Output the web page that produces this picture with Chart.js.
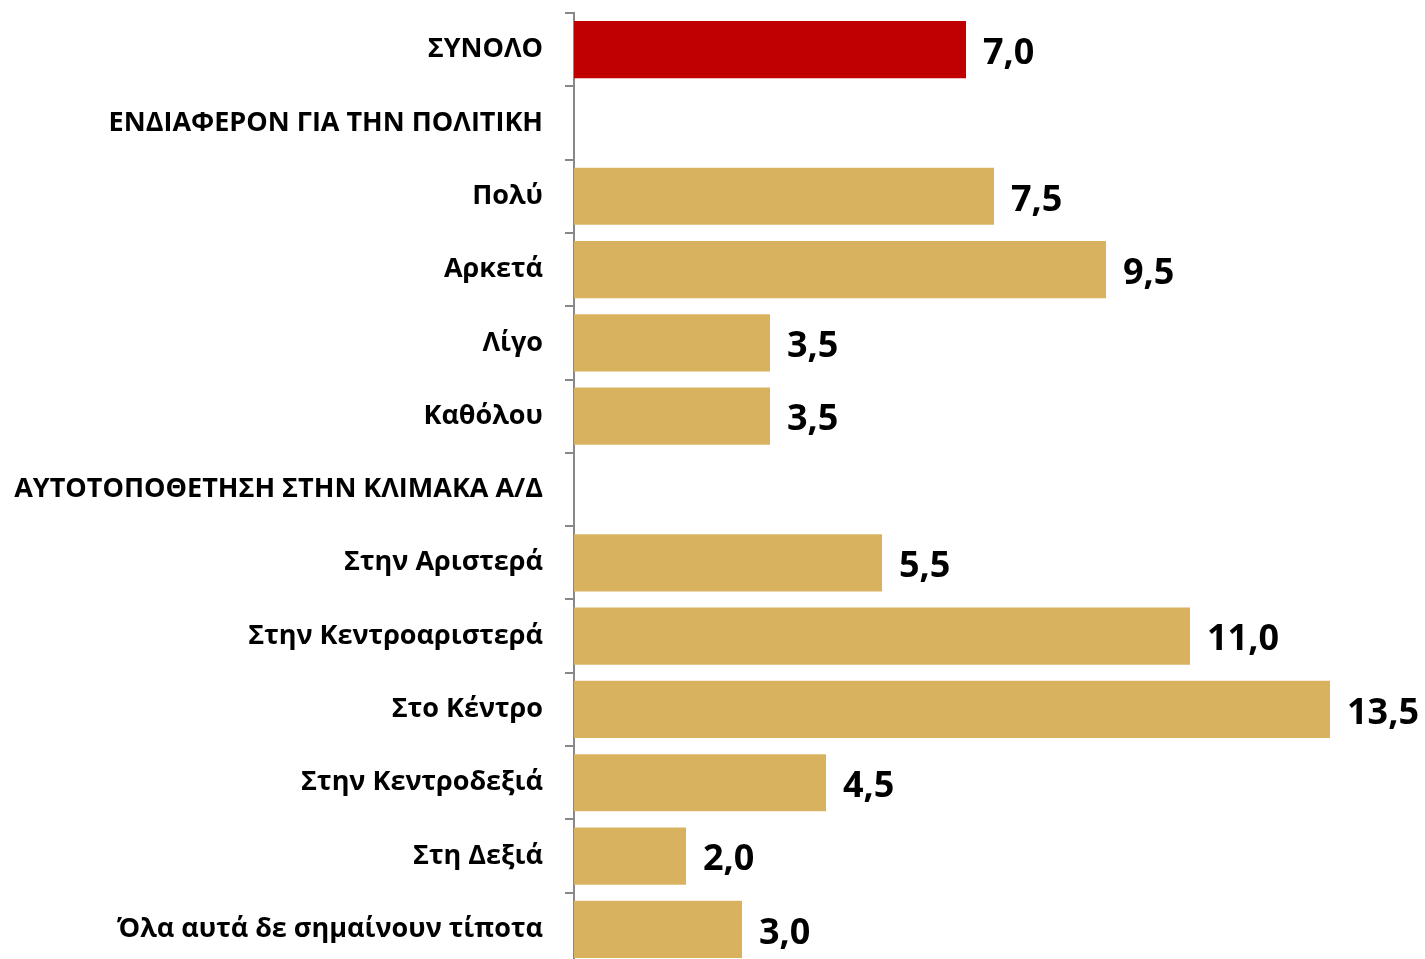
<!DOCTYPE html>
<html>
<head>
<meta charset="utf-8">
<script src="https://cdn.jsdelivr.net/npm/chart.js@4/dist/chart.umd.min.js"></script>
<style>
html,body{margin:0;padding:0;background:#fff;overflow:hidden;}
#wrap{width:1425px;height:970px;}
</style>
</head>
<body>
<div id="wrap"><canvas id="c" width="1425" height="970"></canvas></div>
<script>
const categories = [
  "ΣΥΝΟΛΟ",
  "ΕΝΔΙΑΦΕΡΟΝ ΓΙΑ ΤΗΝ ΠΟΛΙΤΙΚΗ",
  "Πολύ",
  "Αρκετά",
  "Λίγο",
  "Καθόλου",
  "ΑΥΤΟΤΟΠΟΘΕΤΗΣΗ ΣΤΗΝ ΚΛΙΜΑΚΑ Α/Δ",
  "Στην Αριστερά",
  "Στην Κεντροαριστερά",
  "Στο Κέντρο",
  "Στην Κεντροδεξιά",
  "Στη Δεξιά",
  "Όλα αυτά δε σημαίνουν τίποτα"
];
const values = [7.0, null, 7.5, 9.5, 3.5, 3.5, null, 5.5, 11.0, 13.5, 4.5, 2.0, 3.0];
const totalColor = "#C00000";
const barColor = "#D9B260";
const barColors = categories.map((c, i) => i === 0 ? totalColor : barColor);

const valueLabels = {
  id: "valueLabels",
  afterDatasetsDraw(chart) {
    const ctx = chart.ctx;
    const meta = chart.getDatasetMeta(0);
    ctx.save();
    ctx.font = "bold 36px 'Open Sans'";
    ctx.fillStyle = "#000";
    ctx.textAlign = "left";
    ctx.textBaseline = "middle";
    meta.data.forEach((bar, i) => {
      const v = values[i];
      if (v === null || v === undefined) return;
      ctx.fillText(v.toFixed(1).replace(".", ","), bar.x + 17, bar.y + 4);
    });
    ctx.restore();
  }
};

new Chart(document.getElementById("c"), {
  type: "bar",
  data: {
    labels: categories,
    datasets: [{
      data: values,
      backgroundColor: barColors,
      borderWidth: 0,
      barPercentage: 0.78,
      categoryPercentage: 1.0
    }]
  },
  options: {
    indexAxis: "y",
    responsive: false,
    animation: false,
    layout: { padding: { top: 13, right: 11, bottom: 4, left: 0 } },
    plugins: { legend: { display: false }, tooltip: { enabled: false } },
    scales: {
      x: {
        display: false,
        min: 0,
        max: 15
      },
      y: {
        afterFit(scale) {
          scale.width = 574;
          scale.paddingTop = 0;
          scale.paddingBottom = 0;
        },
        border: { display: true, color: "#888888", width: 2 },
        grid: {
          offset: true,
          drawOnChartArea: false,
          drawTicks: true,
          tickLength: 9,
          color: "#888888",
          lineWidth: 2
        },
        ticks: {
          color: "#000",
          padding: 22,
          autoSkip: false,
          font: { family: "'Open Sans'", size: 27, weight: "bold" }
        }
      }
    }
  },
  plugins: [valueLabels]
});
</script>
</body>
</html>
